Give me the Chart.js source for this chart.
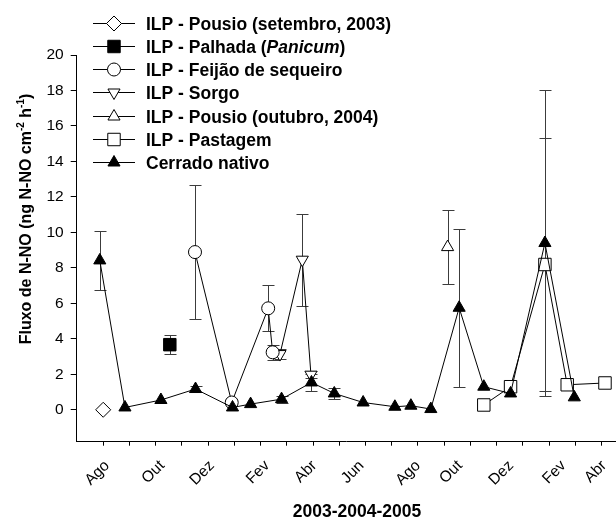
<!DOCTYPE html>
<html>
<head>
<meta charset="utf-8">
<script src="https://cdn.jsdelivr.net/npm/chart.js@4/dist/chart.umd.min.js"></script>
<style>
  html, body { margin: 0; padding: 0; background: #fff; }
  #wrap { width: 616px; height: 519px; }
</style>
</head>
<body>
<div id="wrap"><canvas id="grafico" width="616" height="519"></canvas></div>
<script>
// --- DADOS (x em meses a partir de ago/2003) ---
const pousioSetX = [0];
const pousioSetY = [0];

const palhadaX = [2.54];
const palhadaY = [3.67];
const palhadaErr = [0.53];

const feijaoX = [3.5, 4.9, 6.29, 6.46];
const feijaoY = [8.89, 0.41, 5.72, 3.24];
const feijaoErr = [3.8, 0, 1.3, 0.42];

const sorgoX = [6.74, 7.59, 7.92];
const sorgoY = [3.14, 8.46, 1.98];
const sorgoErr = [0.3, 2.6, 0.2];

const pousioOutX = [13.13];
const pousioOutY = [9.17];
const pousioOutErr = [2.1];

const pastagemX = [14.51, 15.53, 16.84, 17.69, 19.13];
const pastagemY = [0.27, 1.3, 8.19, 1.41, 1.51];
const pastagemErr = [0, 0, 7.14, 0, 0];

const cerradoX = [-0.13, 0.83, 2.2, 3.52, 4.93, 5.62, 6.8, 7.94, 8.81, 9.91, 11.12, 11.73, 12.49, 13.57, 14.51, 15.53, 16.84, 17.96];
const cerradoY = [8.42, 0.13, 0.55, 1.17, 0.13, 0.32, 0.6, 1.54, 0.92, 0.41, 0.17, 0.23, 0.04, 5.75, 1.3, 0.92, 9.4, 0.7];
const cerradoErr = [1.65, 0, 0, 0.15, 0, 0, 0.2, 0.5, 0.33, 0, 0, 0, 0, 4.45, 0, 0, 8.6, 0];

const nomesSeries = [
    'ILP - Pousio (setembro, 2003)',
    'ILP - Palhada (Panicum)',
    'ILP - Feijão de sequeiro',
    'ILP - Sorgo',
    'ILP - Pousio (outubro, 2004)',
    'ILP - Pastagem',
    'Cerrado nativo'
];
const palavraItalica = 'Panicum';

const mesesTicks = [0, 1, 2, 3, 4, 5, 6, 7, 8, 9, 10, 11, 12, 13, 14, 15, 16, 17, 18, 19];
const mesesLabels = ['Ago', 'Out', 'Dez', 'Fev', 'Abr', 'Jun', 'Ago', 'Out', 'Dez', 'Fev', 'Abr'];
const mesesLabelPos = [0.15, 2.25, 4.15, 6.25, 8.05, 9.85, 12.0, 13.6, 15.55, 17.55, 19.1];
const yTicks = [0, 2, 4, 6, 8, 10, 12, 14, 16, 18, 20];
const tituloX = '2003-2004-2005';

const FONTE = '"Liberation Sans", Arial, sans-serif';

function pontos(xs, ys) { return xs.map((x, i) => ({ x: x, y: ys[i] })); }

function serie(label, xs, ys, errs, estilo, raio, fundo, rot) {
    return {
        label: label,
        data: pontos(xs, ys),
        errors: errs,
        showLine: true,
        borderColor: '#000',
        borderWidth: 1,
        pointStyle: estilo,
        pointRadius: raio,
        pointRotation: rot || 0,
        pointBackgroundColor: fundo,
        pointBorderColor: '#000',
        pointBorderWidth: 1,
        tension: 0
    };
}

// cerrado primeiro para ficar por cima
const datasets = [
    serie(nomesSeries[6], cerradoX, cerradoY, cerradoErr, 'triangle', 7, '#000'),
    serie(nomesSeries[0], pousioSetX, pousioSetY, null, 'rectRot', 7.5, '#fff'),
    serie(nomesSeries[1], palhadaX, palhadaY, palhadaErr, 'rect', 8.8, '#000'),
    serie(nomesSeries[2], feijaoX, feijaoY, feijaoErr, 'circle', 6.5, '#fff'),
    serie(nomesSeries[3], sorgoX, sorgoY, sorgoErr, 'triangle', 7, '#fff', 180),
    serie(nomesSeries[4], pousioOutX, pousioOutY, pousioOutErr, 'triangle', 7, '#fff'),
    serie(nomesSeries[5], pastagemX, pastagemY, pastagemErr, 'rect', 8.8, '#fff')
];
// ordem da legenda -> indice do dataset
const ordemLegenda = [1, 2, 3, 4, 5, 6, 0];

// --- PLUGINS ---
const barrasErro = {
    id: 'barrasErro',
    beforeDatasetsDraw(chart) {
        const ctx = chart.ctx;
        const sx = chart.scales.x, sy = chart.scales.y;
        ctx.save();
        ctx.strokeStyle = '#3c3c3c';
        ctx.lineWidth = 1;
        chart.data.datasets.forEach(ds => {
            if (!ds.errors) return;
            ds.data.forEach((p, i) => {
                const e = ds.errors[i];
                if (!e) return;
                const px = Math.round(sx.getPixelForValue(p.x)) + 0.5;
                const yt = Math.round(sy.getPixelForValue(p.y + e)) + 0.5;
                const yb = Math.round(sy.getPixelForValue(p.y - e)) + 0.5;
                ctx.beginPath();
                ctx.moveTo(px, yt); ctx.lineTo(px, yb);
                ctx.moveTo(px - 6, yt); ctx.lineTo(px + 6, yt);
                ctx.moveTo(px - 6, yb); ctx.lineTo(px + 6, yb);
                ctx.stroke();
            });
        });
        ctx.restore();
    }
};

const legendaCaixa = {
    id: 'legendaCaixa',
    afterDraw(chart) {
        const ctx = chart.ctx;
        const topo = 22.7, passo = 23.2;
        ctx.save();
        ordemLegenda.forEach((idx, i) => {
            const ds = chart.data.datasets[idx];
            const y = Math.round(topo + i * passo) + 0.5;
            ctx.strokeStyle = '#000';
            ctx.lineWidth = 1;
            ctx.beginPath();
            ctx.moveTo(93, y); ctx.lineTo(135, y);
            ctx.stroke();
            ctx.fillStyle = ds.pointBackgroundColor;
            ctx.strokeStyle = '#000';
            Chart.helpers.drawPoint(ctx, {
                pointStyle: ds.pointStyle,
                radius: ds.pointRadius,
                rotation: ds.pointRotation,
                borderWidth: 1
            }, 114, y);

            ctx.fillStyle = '#000';
            ctx.textBaseline = 'alphabetic';
            ctx.textAlign = 'left';
            let xt = 146;
            const yb = y + 6.3;
            const partes = ds.label.split(palavraItalica);
            partes.forEach((parte, k) => {
                ctx.font = 'bold 17.5px ' + FONTE;
                ctx.fillText(parte, xt, yb);
                xt += ctx.measureText(parte).width;
                if (k < partes.length - 1) {
                    ctx.font = 'italic bold 17.5px ' + FONTE;
                    ctx.fillText(palavraItalica, xt, yb);
                    xt += ctx.measureText(palavraItalica).width;
                }
            });
        });
        ctx.restore();
    }
};

// titulos dos eixos (o do eixo y tem sobrescritos)
const titulos = {
    id: 'titulos',
    afterDraw(chart) {
        const ctx = chart.ctx;
        ctx.save();
        ctx.fillStyle = '#000';
        ctx.textBaseline = 'alphabetic';

        ctx.font = 'bold 17.5px ' + FONTE;
        ctx.textAlign = 'center';
        ctx.fillText(tituloX, 357, 516.5);

        const partes = [
            { t: 'Fluxo de N-NO (ng N-NO cm', s: false },
            { t: '-2', s: true },
            { t: ' h', s: false },
            { t: '-1', s: true },
            { t: ')', s: false }
        ];
        const fN = 'bold 16px ' + FONTE, fS = 'bold 10px ' + FONTE;
        let total = 0;
        partes.forEach(p => { ctx.font = p.s ? fS : fN; p.w = ctx.measureText(p.t).width; total += p.w; });
        ctx.translate(31, 219);
        ctx.rotate(-Math.PI / 2);
        ctx.textAlign = 'left';
        let xx = -total / 2;
        partes.forEach(p => {
            ctx.font = p.s ? fS : fN;
            ctx.fillText(p.t, xx, p.s ? -7 : 0);
            xx += p.w;
        });
        ctx.restore();
    }
};

new Chart(document.getElementById('grafico'), {
    type: 'line',
    data: { datasets: datasets },
    options: {
        responsive: false,
        animation: false,
        devicePixelRatio: 1,
        layout: { autoPadding: false, padding: { top: 55, left: 0, right: 0, bottom: 0 } },
        plugins: { legend: { display: false }, tooltip: { enabled: false } },
        scales: {
            x: {
                type: 'linear',
                min: -1.01,
                max: 19.55,
                afterBuildTicks(scale) {
                    const t = mesesTicks.map(v => ({ value: v, lbl: '' }));
                    mesesLabelPos.forEach((v, i) => t.push({ value: v, lbl: mesesLabels[i], rotulo: true }));
                    t.sort((a, b) => b.value - a.value);
                    scale.ticks = t;
                },
                afterFit(scale) {
                    scale.height = 77.3;
                    scale.paddingLeft = 0;
                    scale.paddingRight = 0;
                },
                ticks: {
                    autoSkip: false,
                    minRotation: 45,
                    maxRotation: 45,
                    padding: 11,
                    color: '#000',
                    font: { family: FONTE, size: 15.5 },
                    callback: (v, i, t) => t[i].lbl
                },
                grid: {
                    drawOnChartArea: false,
                    drawTicks: true,
                    tickLength: 4,
                    tickColor: c => (c.tick && c.tick.rotulo) ? 'rgba(0,0,0,0)' : '#000'
                },
                border: { display: true, color: '#000', width: 1 }
            },
            y: {
                min: -1.8,
                max: 20,
                afterBuildTicks(scale) { scale.ticks = yTicks.map(v => ({ value: v })); },
                afterFit(scale) { scale.width = 76.7; },
                ticks: {
                    padding: 7,
                    color: '#000',
                    font: { family: FONTE, size: 15.5 }
                },
                grid: {
                    drawOnChartArea: false,
                    drawTicks: true,
                    tickLength: 6,
                    tickColor: '#000'
                },
                border: { display: true, color: '#000', width: 1 }
            }
        }
    },
    plugins: [barrasErro, legendaCaixa, titulos]
});
</script>
</body>
</html>
